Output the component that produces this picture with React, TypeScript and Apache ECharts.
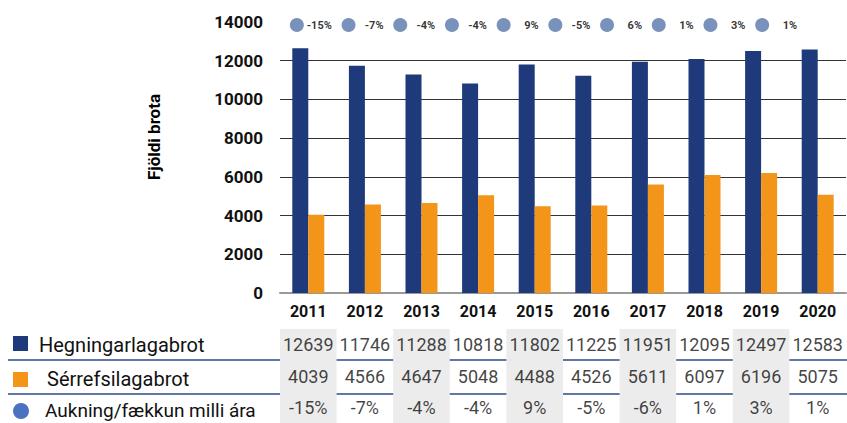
import React, { useEffect, useRef } from "react";
import * as echarts from "echarts";

const years = ["2011", "2012", "2013", "2014", "2015", "2016", "2017", "2018", "2019", "2020"];
const hegningarlagabrot = [12639, 11746, 11288, 10818, 11802, 11225, 11951, 12095, 12497, 12583];
const serrefsilagabrot = [4039, 4566, 4647, 5048, 4488, 4526, 5611, 6097, 6196, 5075];
const changeTop = ["-15%", "-7%", "-4%", "-4%", "9%", "-5%", "6%", "1%", "3%", "1%"];
const changeTable = ["-15%", "-7%", "-4%", "-4%", "9%", "-5%", "-6%", "1%", "3%", "1%"];
const tableRows = ["Hegningarlagabrot", "Sérrefsilagabrot", "Aukning/fækkun milli ára"];
const yMin = 0;
const yMax = 14000;
const yStep = 2000;

const FONT = "Roboto, 'Noto Sans', sans-serif";
const NAVY = "#1f3a7a";
const ORANGE = "#f39519";
const DOT = "#5677ab";
const LEG_DOT = "#4a72c0";

export default function App() {
  const ref = useRef<HTMLDivElement>(null);
  useEffect(() => {
    document.body.style.margin = "0";
    if (!ref.current) return;
    const chart = echarts.init(ref.current, undefined, { renderer: "svg" });
    const tableLabel = (fmt: (i: number) => string) => ({
      show: true,
      position: "inside",
      fontSize: 18,
      color: "#111",
      fontFamily: FONT,
      formatter: (p: any) => fmt(p.dataIndex),
    });
    const option: any = {
      animation: false,
      backgroundColor: "#fff",
      grid: [
        { left: 280, right: 1, top: 22, height: 271 },
        { left: 271, top: 15, width: 517, height: 20 },
        { left: 280, right: 1, top: 329, height: 98 },
      ],
      xAxis: [
        {
          type: "category",
          gridIndex: 0,
          data: years,
          axisLine: { lineStyle: { color: "#999", width: 2 } },
          axisTick: { show: false },
          axisLabel: { fontSize: 16, fontWeight: "bold", color: "#111", margin: 10, fontFamily: FONT },
        },
        { type: "category", gridIndex: 1, data: years, show: false },
        {
          type: "category",
          gridIndex: 2,
          data: years,
          axisLine: { show: false },
          axisTick: { show: false, interval: 0 },
          axisLabel: { show: false, interval: 0 },
          splitArea: { show: true, interval: 0, areaStyle: { color: ["#ececec", "rgba(255,255,255,0)"] } },
        },
      ],
      yAxis: [
        {
          type: "value",
          gridIndex: 0,
          min: yMin,
          max: yMax,
          interval: yStep,
          axisLine: { show: false },
          axisTick: { show: false },
          axisLabel: {
            fontSize: 17,
            fontWeight: "bold",
            color: "#111",
            margin: 17,
            fontFamily: FONT,
            formatter: (v: number) => String(v),
          },
          splitLine: { show: true, showMaxLine: false, showMinLine: false, lineStyle: { color: "#333", width: 1 } },
        },
        { type: "value", gridIndex: 1, min: 0, max: 1, show: false },
        { type: "category", gridIndex: 2, data: tableRows, inverse: true, show: false },
      ],
      series: [
        {
          name: "Hegningarlagabrot",
          type: "bar",
          xAxisIndex: 0,
          yAxisIndex: 0,
          data: hegningarlagabrot,
          barWidth: 16,
          barGap: "0%",
          itemStyle: { color: NAVY },
        },
        {
          name: "Sérrefsilagabrot",
          type: "bar",
          xAxisIndex: 0,
          yAxisIndex: 0,
          data: serrefsilagabrot,
          barWidth: 16,
          barGap: "0%",
          itemStyle: { color: ORANGE },
        },
        {
          name: "Aukning/fækkun milli ára",
          type: "scatter",
          xAxisIndex: 1,
          yAxisIndex: 1,
          data: changeTop.map((_, i) => [i, 0.5]),
          symbolSize: 14,
          itemStyle: { color: DOT },
          label: {
            show: true,
            position: [42, 7],
            align: "right",
            verticalAlign: "middle",
            fontSize: 11,
            fontWeight: "bold",
            color: "#000",
            fontFamily: FONT,
            formatter: (p: any) => changeTop[p.dataIndex],
          },
        },
        {
          type: "scatter",
          xAxisIndex: 2,
          yAxisIndex: 2,
          data: hegningarlagabrot.map((_, i) => [i, 0]),
          symbolSize: 1,
          itemStyle: { color: "rgba(0,0,0,0)" },
          label: tableLabel((i) => String(hegningarlagabrot[i])),
        },
        {
          type: "scatter",
          xAxisIndex: 2,
          yAxisIndex: 2,
          data: serrefsilagabrot.map((_, i) => [i, 1]),
          symbolSize: 1,
          itemStyle: { color: "rgba(0,0,0,0)" },
          label: tableLabel((i) => String(serrefsilagabrot[i])),
        },
        {
          type: "scatter",
          xAxisIndex: 2,
          yAxisIndex: 2,
          data: changeTable.map((_, i) => [i, 2]),
          symbolSize: 1,
          itemStyle: { color: "rgba(0,0,0,0)" },
          label: tableLabel((i) => changeTable[i]),
        },
      ],
      graphic: [
        {
          type: "text",
          x: 154,
          y: 137,
          rotation: Math.PI / 2,
          style: {
            text: "Fjöldi brota",
            font: `bold 17px ${FONT}`,
            fill: "#000",
            align: "center",
            verticalAlign: "middle",
            textAlign: "center",
            textVerticalAlign: "middle",
          },
        },
        { type: "line", shape: { x1: 8, y1: 360, x2: 847, y2: 360 }, style: { stroke: "#2e4a8a", lineWidth: 1.5 } },
        { type: "line", shape: { x1: 8, y1: 394, x2: 847, y2: 394 }, style: { stroke: "#2e4a8a", lineWidth: 1.5 } },
        { type: "rect", shape: { x: 13, y: 336, width: 15, height: 15 }, style: { fill: NAVY } },
        { type: "rect", shape: { x: 13, y: 372, width: 15, height: 15 }, style: { fill: ORANGE } },
        { type: "circle", shape: { cx: 21, cy: 411, r: 8 }, style: { fill: LEG_DOT } },
        {
          type: "text",
          x: 39,
          y: 345,
          style: { text: tableRows[0], font: `20px ${FONT}`, fill: "#111", verticalAlign: "middle", textVerticalAlign: "middle" },
        },
        {
          type: "text",
          x: 47,
          y: 379,
          style: { text: tableRows[1], font: `20px ${FONT}`, fill: "#111", verticalAlign: "middle", textVerticalAlign: "middle" },
        },
        {
          type: "text",
          x: 45,
          y: 410,
          style: { text: tableRows[2], font: `19px ${FONT}`, fill: "#111", verticalAlign: "middle", textVerticalAlign: "middle" },
        },
      ],
    };
    chart.setOption(option);
    return () => chart.dispose();
  }, []);
  return <div ref={ref} style={{ width: 847, height: 423 }} />;
}
